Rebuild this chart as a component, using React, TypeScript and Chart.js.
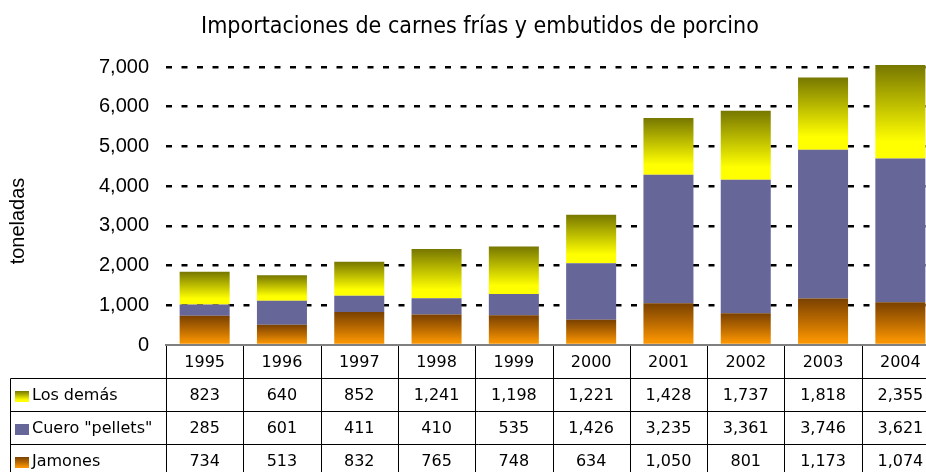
import React, { useEffect, useRef } from 'react';
import { Chart, registerables } from 'chart.js';

Chart.register(...registerables);

const categories = ['1995', '1996', '1997', '1998', '1999', '2000', '2001', '2002', '2003', '2004'];
const jamones = [734, 513, 832, 765, 748, 634, 1050, 801, 1173, 1074];
const cuero = [285, 601, 411, 410, 535, 1426, 3235, 3361, 3746, 3621];
const losDemas = [823, 640, 852, 1241, 1198, 1221, 1428, 1737, 1818, 2355];
const seriesNames = ['Jamones', 'Cuero "pellets"', 'Los demás'];
const yMax = 7000;
const yStep = 1000;
const chartTitle = 'Importaciones de carnes frías y embutidos de porcino';
const yTitle = 'toneladas';

const seriesData = [jamones, cuero, losDemas];

const CANVAS_W = 945;
const CANVAS_H = 480;

type Stops = [number, string][];
const brownStops: Stops = [[0, '#7a4100'], [0.5, '#bd6c00'], [0.9, '#f79300'], [1, '#fa9600']];
const yellowStops: Stops = [[0, '#777700'], [0.45, '#c2c200'], [0.82, '#ffff00'], [1, '#ffff00']];
const purple = '#666699';

function makeGrad(c: CanvasRenderingContext2D, yTop: number, yBot: number, stops: Stops) {
  const g = c.createLinearGradient(0, yTop, 0, yBot);
  stops.forEach(([o, col]) => g.addColorStop(o, col));
  return g;
}

function segmentFill(datasetIndex: number, stops: Stops | null, solid: string) {
  return (ctx: any) => {
    if (!stops) return solid;
    const chart = ctx.chart;
    const ys = chart.scales && chart.scales.y;
    if (ctx.type !== 'data' || !ys || !chart.chartArea) return solid;
    const i = ctx.dataIndex;
    let base = 0;
    for (let d = 0; d < datasetIndex; d++) base += seriesData[d][i];
    const top = base + seriesData[datasetIndex][i];
    const y0 = ys.getPixelForValue(base);
    const y1 = ys.getPixelForValue(top);
    return makeGrad(chart.ctx, y1, y0, stops);
  };
}

const tablePlugin = {
  id: 'tablePlugin',
  afterDraw(chart: any) {
    const c: CanvasRenderingContext2D = chart.ctx;
    const xs = chart.scales.x;
    const area = chart.chartArea;
    c.save();
    // Title
    c.fillStyle = '#000';
    c.font = '23px "DejaVu Sans Condensed", "DejaVu Sans"';
    c.textAlign = 'center';
    c.textBaseline = 'alphabetic';
    c.fillText(chartTitle, 480, 33);
    // Y title
    c.save();
    c.translate(18, 221);
    c.rotate(-Math.PI / 2);
    c.textBaseline = 'middle';
    c.font = '20px "Liberation Sans"';
    c.fillText(yTitle, 0, 0);
    c.restore();

    // Table
    const top = area.bottom;
    const rowH = 33;
    const left = 10.5;
    const n = categories.length;
    const colW = (area.right - area.left) / n;
    c.strokeStyle = '#000';
    c.lineWidth = 1;
    c.beginPath();
    for (let k = 0; k <= n; k++) {
      const x = Math.round(area.left + k * colW) + 0.5;
      c.moveTo(x, top + 1);
      c.lineTo(x, CANVAS_H);
    }
    for (let r = 1; r <= 3; r++) {
      const y = Math.round(top + r * rowH) + 0.5;
      c.moveTo(left, y);
      c.lineTo(area.right + 20, y);
    }
    c.moveTo(left, Math.round(top + rowH) + 0.5);
    c.lineTo(left, CANVAS_H);
    c.stroke();

    c.font = '16px "DejaVu Sans"';
    c.textAlign = 'center';
    c.textBaseline = 'middle';
    categories.forEach((cat, i) => {
      const x = xs.getPixelForValue(i);
      c.fillText(cat, x, top + rowH / 2 + 1);
    });
    const rows = [
      { name: seriesNames[2], data: losDemas, stops: yellowStops, solid: '' },
      { name: seriesNames[1], data: cuero, stops: null, solid: purple },
      { name: seriesNames[0], data: jamones, stops: brownStops, solid: '' },
    ];
    rows.forEach((row, r) => {
      const cy = top + rowH * (r + 1) + rowH / 2 + 1;
      const ky = Math.round(cy - 5);
      c.fillStyle = row.stops ? makeGrad(c, ky, ky + 11, row.stops as Stops) : row.solid;
      c.fillRect(15, ky, 14, 11);
      c.fillStyle = '#000';
      c.textAlign = 'left';
      c.fillText(row.name, 32, cy);
      c.textAlign = 'center';
      row.data.forEach((v, i) => {
        c.fillText(v.toLocaleString('en-US'), xs.getPixelForValue(i), cy);
      });
    });
    c.restore();
  },
};

export default function App() {
  const ref = useRef<HTMLCanvasElement | null>(null);
  useEffect(() => {
    if (!ref.current) return;
    const chart = new Chart(ref.current, {
      type: 'bar',
      data: {
        labels: categories,
        datasets: [
          { label: seriesNames[0], data: jamones, backgroundColor: segmentFill(0, brownStops, '#c06f00'), borderWidth: 0 },
          { label: seriesNames[1], data: cuero, backgroundColor: segmentFill(1, null, purple), borderWidth: 0 },
          { label: seriesNames[2], data: losDemas, backgroundColor: segmentFill(2, yellowStops, '#ffff00'), borderWidth: 0, clip: false },
        ],
      },
      options: {
        responsive: false,
        animation: false,
        devicePixelRatio: 1,
        layout: { padding: { left: 0, right: CANVAS_W - 939, top: 67, bottom: CANVAS_H - 345 } },
        plugins: {
          legend: { display: false },
          title: { display: false },
          tooltip: { enabled: false },
        },
        datasets: { bar: { barPercentage: 0.647, categoryPercentage: 1 } },
        scales: {
          x: {
            stacked: true,
            offset: true,
            grid: { display: false, drawTicks: false },
            ticks: { display: false },
            border: { display: true, color: '#808080', width: 2 },
            afterFit: (s: any) => { s.height = 0; },
          },
          y: {
            stacked: true,
            min: 0,
            max: yMax,
            ticks: {
              stepSize: yStep,
              padding: 17,
              color: '#000',
              font: { family: '"Liberation Sans"', size: 20 },
              callback: (v: any) => Number(v).toLocaleString('en-US'),
            },
            grid: {
              drawTicks: false,
              lineWidth: 2.5,
              color: (ctx: any) => (ctx.tick && ctx.tick.value === 0 ? 'rgba(0,0,0,0)' : '#000'),
            },
            border: { display: false, dash: [6, 9.5] },
            afterFit: (s: any) => { s.width = 166; },
          },
        },
      },
      plugins: [tablePlugin],
    } as any);
    return () => chart.destroy();
  }, []);
  return (
    <div style={{ position: 'absolute', left: 0, top: 0, width: 926, height: 472, overflow: 'hidden', background: '#fff' }}>
      <canvas ref={ref} width={CANVAS_W} height={CANVAS_H} style={{ width: CANVAS_W, height: CANVAS_H, display: 'block' }} />
    </div>
  );
}
